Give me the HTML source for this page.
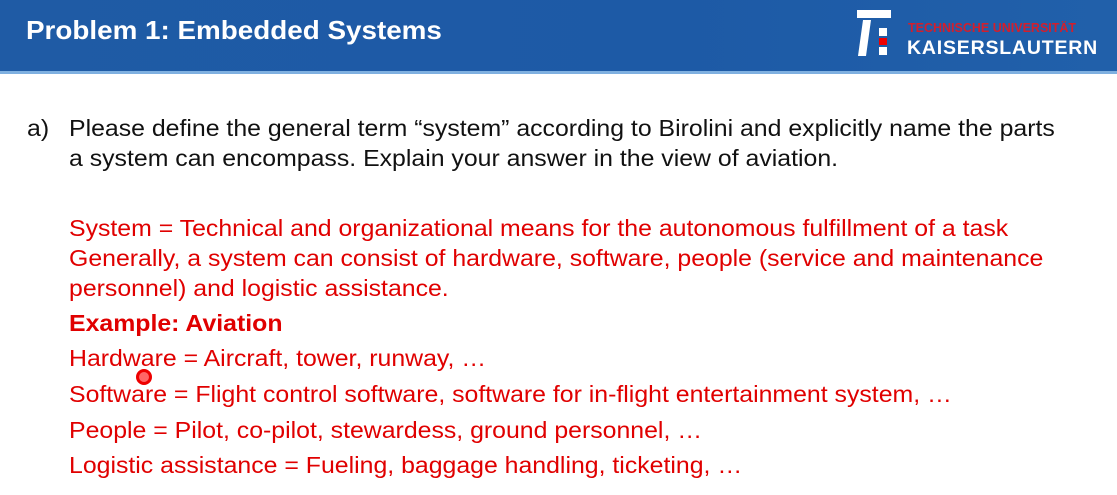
<!DOCTYPE html>
<html><head><meta charset="utf-8"><style>
body{margin:0;width:1117px;height:495px;background:#fff;position:relative;overflow:hidden;font-family:"Liberation Sans",Arial,sans-serif}
.hdr{position:absolute;left:0;top:0;width:1117px;height:71px;background:linear-gradient(90deg,#1f5ba5,#1d5aa6 60%,#2160aa);border-bottom:3px solid #7fb0e0}
.title{position:absolute;left:26px;top:15px;color:#fff;font-weight:bold;font-size:26px;transform:scaleX(1.07);transform-origin:0 0;white-space:nowrap}
.t{position:absolute;font-size:23px;white-space:nowrap;line-height:1;transform:scaleX(1.08);transform-origin:0 0}
.k{color:#111}.r{color:#e00000}
</style></head><body>
<div class="hdr"></div>
<div class="title">Problem 1: Embedded Systems</div>
<div>
<svg style="position:absolute;left:855px;top:8px" width="50" height="52">
<rect x="2" y="2" width="34" height="8" fill="#fff"/><polygon points="8,12 16,12 11,48 3,48" fill="#fff"/>
<rect x="24" y="20" width="8" height="8" fill="#fff"/><rect x="24" y="30" width="8" height="7" fill="#e00"/><rect x="24" y="39" width="8" height="8" fill="#fff"/></svg>
<div style="position:absolute;left:908px;top:21px;color:#d21f2d;font-size:12.5px;font-weight:bold;white-space:nowrap">TECHNISCHE UNIVERSITÄT</div>
<div style="position:absolute;left:907px;top:37px;color:#fff;font-size:19.5px;font-weight:bold;letter-spacing:0.8px;white-space:nowrap">KAISERSLAUTERN</div>
</div>
<div class="t k" style="left:27px;top:117px">a)</div>
<div class="t k" style="left:69px;top:117px">Please define the general term “system” according to Birolini and explicitly name the parts</div>
<div class="t k" style="left:69px;top:147px">a system can encompass. Explain your answer in the view of aviation.</div>
<div class="t r" style="left:69px;top:217px">System = Technical and organizational means for the autonomous fulfillment of a task</div>
<div class="t r" style="left:69px;top:247px">Generally, a system can consist of hardware, software, people (service and maintenance</div>
<div class="t r" style="left:69px;top:277px">personnel) and logistic assistance.</div>
<div class="t r" style="left:69px;top:312px;font-weight:bold">Example: Aviation</div>
<div class="t r" style="left:69px;top:347px">Hardware = Aircraft, tower, runway, …</div>
<div class="t r" style="left:69px;top:383px">Software = Flight control software, software for in-flight entertainment system, …</div>
<div class="t r" style="left:69px;top:419px">People = Pilot, co-pilot, stewardess, ground personnel, …</div>
<div class="t r" style="left:69px;top:454px">Logistic assistance = Fueling, baggage handling, ticketing, …</div>
<div style="position:absolute;left:136px;top:369px;width:10px;height:10px;border-radius:50%;border:3px solid #e00;background:#f66"></div>
</body></html>
